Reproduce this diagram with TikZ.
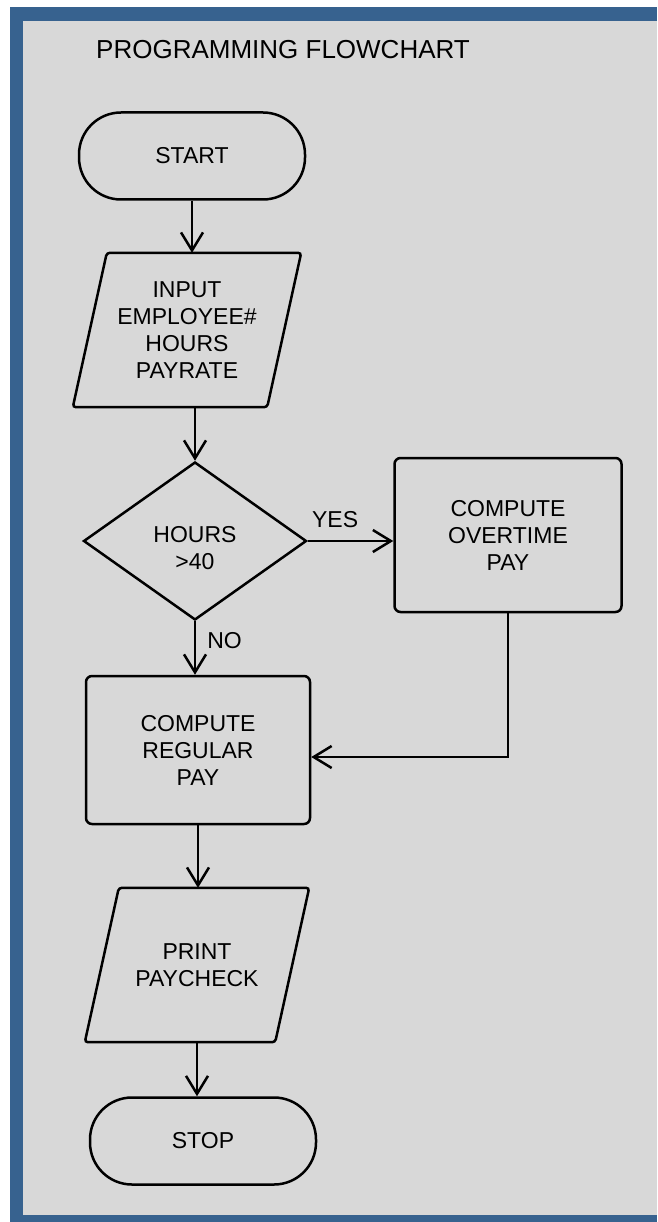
\documentclass[tikz,border=0pt]{standalone}
\usepackage{fontspec}
\setmainfont{Liberation Sans}
\usepackage{tikz}
\usetikzlibrary{arrows.meta,positioning,calc,shapes.geometric}
\definecolor{frameblue}{HTML}{37628F}
\definecolor{panelgray}{HTML}{D8D8D8}

\begin{document}
\begin{tikzpicture}[x=1pt,y=-1pt,>={Straight Barb[length=18pt,width=22pt]},
  every node/.style={font=\fontsize{23}{27}\selectfont,align=center,inner sep=0pt},
  outline/.style={line width=2.5pt},
  term/.style={draw,outline,rounded corners=42pt,minimum width=226pt,minimum height=87pt},
  io/.style={minimum height=154pt},
  proc/.style={draw,outline,rounded corners=6pt},
  decide/.style={draw,outline,diamond,minimum width=223pt,minimum height=158pt},
  flow/.style={->,line width=2.5pt}]
  \useasboundingbox (0,0) rectangle (657,1222);
  \fill[white] (0,0) rectangle (657,1222);
  \fill[frameblue] (10,7) rectangle (657,1222);
  \fill[panelgray] (23,21) rectangle (657,1215);

  \node[anchor=west,font=\fontsize{26}{30}\selectfont] (title) at (96,50) {PROGRAMMING FLOWCHART};
  \node[term] (start) at (192,156) {START};
  \node[io,minimum width=194pt] (input) at (187,330) {INPUT\\EMPLOYEE\#\\HOURS\\PAYRATE};
  \node[decide,label={[yshift=-7pt]center:HOURS\\>40}] (hours) at (195,541) {};
  \node[proc,minimum width=227pt,minimum height=154pt] (overtime) at (508,535) {COMPUTE\\OVERTIME\\PAY};
  \node[proc,minimum width=224pt,minimum height=148pt] (regular) at (198,750) {COMPUTE\\REGULAR\\PAY};
  \node[io,minimum width=190pt] (print) at (197,965) {PRINT\\PAYCHECK};
  \node[term] (stop) at (203,1141) {STOP};

  \foreach \n in {input,print}
    \draw[outline,rounded corners=3pt] ($(\n.south west)+(-17,0)$) -- ($(\n.north west)+(17,0)$)
      -- ($(\n.north east)+(17,0)$) -- ($(\n.south east)+(-17,0)$) -- cycle;

  \draw[flow] (start.south) -- (start.south |- input.north);
  \draw[flow] (hours.north |- input.south) -- (hours.north);
  \draw[flow] (hours.east) -- node[above=12pt,pos=0.32] {YES} (hours.east -| overtime.west);
  \draw[flow] (hours.south) -- node[right=11pt,pos=0.36] {NO} (hours.south |- regular.north);
  \draw[flow] (overtime.south) |- ($(regular.east)+(0,7)$);
  \draw[flow] (regular.south) -- (regular.south |- print.north);
  \draw[flow] (print.south) -- (print.south |- stop.north);
\end{tikzpicture}
\end{document}
